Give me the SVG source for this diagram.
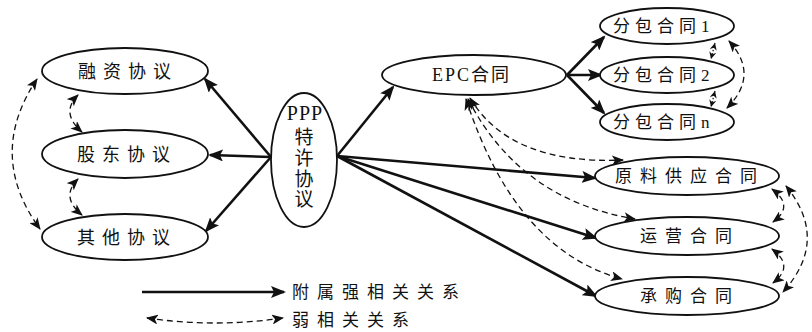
<svg xmlns="http://www.w3.org/2000/svg" width="812" height="332" viewBox="0 0 812 332">
<style>
.n{fill:#fff;stroke:#111;stroke-width:1.8}
.t{font-family:"Liberation Serif","Noto Sans CJK SC",serif;font-size:17px;fill:#111}
.s{fill:none;stroke:#111;stroke-width:2.6;marker-end:url(#ah)}
.d{fill:none;stroke:#111;stroke-width:1.3;stroke-dasharray:6,4;marker-start:url(#dh);marker-end:url(#dh)}
.o{fill:none;stroke:#111;stroke-width:1.2;stroke-dasharray:1.5,2;marker-start:url(#sh);marker-end:url(#sh)}
</style>
<defs>
<marker id="ah" markerUnits="userSpaceOnUse" markerWidth="16" markerHeight="12" refX="13" refY="6" orient="auto" viewBox="0 0 16 12">
<path d="M0,0 L15,6 L0,12 L3,6 z" fill="#111"/>
</marker>
<marker id="dh" markerUnits="userSpaceOnUse" markerWidth="13" markerHeight="10" refX="11" refY="5" orient="auto-start-reverse" viewBox="0 0 13 10">
<path d="M0,0 L12,5 L0,10 L3,5 z" fill="#111"/>
</marker>
<marker id="sh" markerUnits="userSpaceOnUse" markerWidth="8" markerHeight="7" refX="7" refY="3.5" orient="auto-start-reverse" viewBox="0 0 8 7">
<path d="M0,0 L7,3.5 L0,7 L2,3.5 z" fill="#111"/>
</marker>
</defs>
<rect width="812" height="332" fill="#fff"/>
<g id="connectors">
<path class="s" d="M271,157 L205,79"/>
<path class="s" d="M271,157 L210,155"/>
<path class="s" d="M271,157 L206,231"/>
<path class="s" d="M337,156 L393,87"/>
<path class="s" d="M337,156 L595,178"/>
<path class="s" d="M337,156 L596,238"/>
<path class="s" d="M337,156 L596,296"/>
<path class="s" d="M567,75 L604,37"/>
<path class="s" d="M567,75 L601,75"/>
<path class="s" d="M567,75 L604,113"/>
<path class="d" d="M37,79 Q-14,155 40,229"/>
<path class="d" d="M78,95 Q60,113 82,132"/>
<path class="d" d="M78,179 Q60,197 82,215"/>
<path class="d" d="M470,98 Q510,165 623,160"/>
<path class="d" d="M468,99 Q520,200 635,219"/>
<path class="d" d="M466,99 Q515,250 622,279"/>
<path class="o" d="M715,43 L711,59"/>
<path class="o" d="M715,91 L711,107"/>
<path class="d" d="M729,41 Q760,75 727,108"/>
<path class="d" d="M772,189 Q795,206 773,222"/>
<path class="d" d="M772,249 Q795,266 773,283"/>
<path class="d" d="M786,186 Q830,240 783,292"/>
<path class="s" d="M142,292 L284,292"/>
<path class="d" d="M147,318 Q215,328 283,318"/>
</g>
<g id="n-rongzi"><ellipse class="n" cx="125" cy="71" rx="83" ry="23"/><text class="t" x="78" y="77.5" style="letter-spacing:7px;font-size:18px">融资协议</text></g>
<g id="n-gudong"><ellipse class="n" cx="125" cy="154" rx="83" ry="24"/><text class="t" x="77" y="160.5" style="letter-spacing:7px;font-size:18px">股东协议</text></g>
<g id="n-qita"><ellipse class="n" cx="125" cy="237" rx="83" ry="23"/><text class="t" x="77" y="243.5" style="letter-spacing:7px;font-size:18px">其他协议</text></g>
<g id="n-ppp"><ellipse class="n" cx="304" cy="160" rx="33" ry="67"/>
<text class="t" x="305" y="120" text-anchor="middle" style="font-size:20px;letter-spacing:1px">PPP</text>
<text class="t" x="304" y="144" text-anchor="middle" style="font-size:19px">特</text>
<text class="t" x="304" y="165" text-anchor="middle" style="font-size:19px">许</text>
<text class="t" x="304" y="186" text-anchor="middle" style="font-size:19px">协</text>
<text class="t" x="304" y="206" text-anchor="middle" style="font-size:19px">议</text></g>
<g id="n-epc"><ellipse class="n" cx="474" cy="75" rx="92" ry="20"/><text class="t" x="432" y="81" style="letter-spacing:2px;font-size:18px">EPC合同</text></g>
<g id="n-fb1"><ellipse class="n" cx="667" cy="26" rx="67" ry="18"/><text class="t" x="613" y="32" style="letter-spacing:5px">分包合同1</text></g>
<g id="n-fb2"><ellipse class="n" cx="667" cy="75" rx="67" ry="18"/><text class="t" x="613" y="81" style="letter-spacing:5px">分包合同2</text></g>
<g id="n-fbn"><ellipse class="n" cx="667" cy="122" rx="67" ry="18"/><text class="t" x="613" y="128" style="letter-spacing:5px">分包合同n</text></g>
<g id="n-yuanliao"><ellipse class="n" cx="687" cy="176" rx="92" ry="19"/><text class="t" x="615" y="182" style="letter-spacing:8px">原料供应合同</text></g>
<g id="n-yunying"><ellipse class="n" cx="687" cy="236" rx="92" ry="19"/><text class="t" x="640" y="242" style="letter-spacing:8px">运营合同</text></g>
<g id="n-chenggou"><ellipse class="n" cx="687" cy="296" rx="92" ry="19"/><text class="t" x="640" y="302" style="letter-spacing:8px">承购合同</text></g>
<g id="legend">
<text class="t" x="292" y="298" style="letter-spacing:8px">附属强相关关系</text>
<text class="t" x="292" y="326" style="letter-spacing:8px">弱相关关系</text>
</g>
</svg>
